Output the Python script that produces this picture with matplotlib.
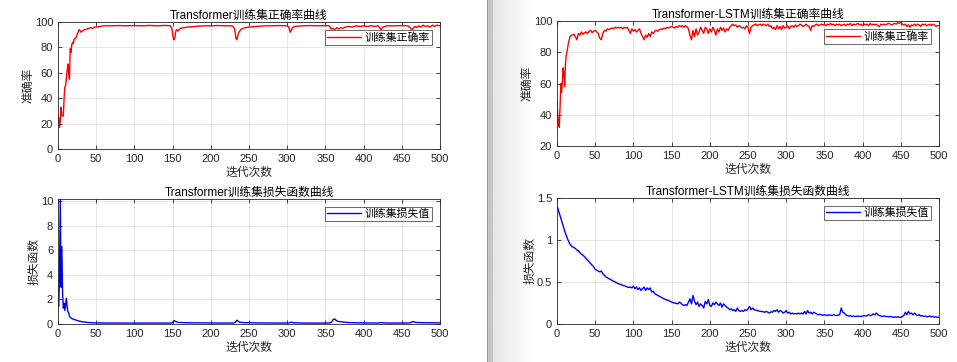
import numpy as np
import matplotlib
matplotlib.use("Agg")
import matplotlib.pyplot as plt
from matplotlib.patches import Rectangle

plt.rcParams['font.family'] = ['Liberation Sans', 'Noto Sans CJK SC', 'DejaVu Sans']
plt.rcParams['axes.unicode_minus'] = False

# ---- Transformer (left): (iteration, value) points ----
tf_acc_pts = [
    (1, 25), (2, 17), (3, 22), (4, 33), (5, 26), (6, 26), (7, 26), (8, 40), (9, 49), (10, 50),
    (11, 56), (12, 62), (13, 67), (14, 60), (15, 55), (16, 79), (17, 76), (18, 82), (19, 84),
    (20, 83), (21, 86), (22, 87), (24, 88), (25, 90), (27, 93), (28, 94), (30, 92), (32, 93),
    (35, 94), (38, 94.5), (40, 95), (43, 95.5), (45, 95), (48, 96), (50, 96), (55, 96.5),
    (60, 97), (70, 97), (80, 97.2), (90, 97), (100, 97.2), (110, 97), (120, 97.3), (130, 97),
    (140, 97.3), (147, 97), (149, 95), (150, 91), (151, 87), (152, 86), (153, 88), (154, 92),
    (155, 94), (157, 93), (160, 95), (165, 95.5), (170, 96), (180, 96.5), (190, 97), (200, 97),
    (210, 97.2), (220, 97), (228, 97), (231, 95), (232, 91), (233, 87), (234, 86), (235, 88),
    (236, 91), (238, 93), (240, 94.5), (245, 95.5), (250, 96), (260, 96.5), (270, 97),
    (280, 97), (290, 97.2), (300, 97), (302, 96), (303, 94), (304, 92), (306, 94.5), (308, 96),
    (310, 96.5), (320, 97), (330, 97.2), (340, 97), (350, 97.2), (355, 97), (356, 96),
    (357, 94.5), (360, 95), (362, 94), (365, 95.5), (367, 94.5), (370, 95.5), (373, 95),
    (376, 96), (380, 96.5), (385, 96), (390, 97), (395, 96.5), (400, 97), (405, 96.5),
    (410, 97), (415, 96.5), (419, 97), (421, 95.5), (423, 94), (425, 96), (428, 96.5),
    (430, 97), (440, 97), (450, 97.2), (458, 97), (461, 95.5), (463, 94), (465, 95),
    (467, 96.5), (470, 95.5), (472, 97), (475, 96), (478, 97.5), (481, 96.5), (484, 97),
    (487, 96), (490, 97.5), (493, 96.5), (496, 97.5), (500, 97),
]

tf_loss_pts = [
    (1, 1.45), (2, 4.0), (3, 10.3), (4, 3.0), (5, 6.3), (6, 2.5), (7, 1.3), (8, 1.7), (9, 1.1),
    (10, 1.6), (11, 2.1), (12, 1.4), (13, 1.0), (14, 0.9), (15, 0.65), (16, 0.55), (18, 0.45),
    (20, 0.4), (23, 0.33), (26, 0.27), (30, 0.2), (35, 0.15), (40, 0.12), (45, 0.1), (50, 0.09),
    (60, 0.08), (80, 0.08), (100, 0.075), (120, 0.08), (148, 0.075), (150, 0.12), (152, 0.28),
    (154, 0.2), (156, 0.15), (160, 0.12), (170, 0.1), (190, 0.09), (210, 0.08), (230, 0.08),
    (232, 0.15), (234, 0.3), (236, 0.22), (238, 0.14), (245, 0.11), (260, 0.09), (280, 0.08),
    (302, 0.08), (304, 0.13), (306, 0.15), (308, 0.1), (320, 0.08), (340, 0.075), (355, 0.08),
    (358, 0.15), (360, 0.35), (362, 0.42), (364, 0.3), (366, 0.22), (370, 0.18), (375, 0.15),
    (380, 0.12), (390, 0.1), (400, 0.09), (420, 0.08), (422, 0.12), (424, 0.1), (430, 0.08),
    (460, 0.08), (462, 0.12), (464, 0.2), (466, 0.18), (468, 0.13), (475, 0.11), (490, 0.1),
    (500, 0.09),
]

# ---- Transformer-LSTM (right): iterations 0..19 every 1, then 20..500 every 2 ----
tl_iters = list(range(0, 20)) + list(range(20, 501, 2))

tl_acc = [
    48, 40, 34, 32, 45, 60, 54, 61, 70, 66, 58, 72, 78, 80, 83, 86, 88, 90, 90.5, 91,
    # 20-68
    91, 91.5, 90, 88, 92, 91, 93, 91.5, 92.5, 93, 92, 93.5, 94, 92.5, 93.5, 94, 93, 92, 89, 88,
    92, 94, 93.5, 95, 94.5,
    # 70-118
    95, 95.5, 95, 96, 95.5, 96, 95.5, 96, 95, 96, 95.5, 96, 94, 92, 95, 93.5, 94.5, 93, 94, 95,
    92, 90, 88, 91, 89.5,
    # 120-168
    92, 90, 93, 92, 93.5, 94, 93.5, 94.5, 95, 94.5, 95.5, 95, 96, 95.5, 96, 96.5, 96, 95.5, 96.5,
    96, 97, 96.5, 97, 96, 97,
    # 170-218
    96.5, 95, 91, 88, 94, 90, 95, 91, 93, 96, 94, 92, 96, 95, 92, 95, 93, 96, 94, 91, 95, 93, 96,
    94, 95.5,
    # 220-268
    93, 95, 94, 96, 97, 98, 97, 97.5, 96, 97, 96.5, 95.5, 96, 95, 97, 96, 92, 96, 97, 97.5, 98,
    97, 97.5, 98, 97,
    # 270-318
    98, 97.5, 97, 98, 96.5, 97, 95, 96, 94.5, 97, 95, 96.5, 94.5, 97, 95.5, 96, 97, 95, 96.5, 97,
    96, 97.5, 96.5, 97, 98,
    # 320-368
    97.5, 96.5, 97, 98, 97, 96.5, 94, 97, 96.5, 97.5, 98, 97, 97.5, 98, 97.5, 98, 97, 98, 97.5,
    98.5, 97.5, 98, 97, 98, 97.5,
    # 370-418
    98, 97, 97.5, 98, 97, 98, 97.5, 98.5, 97, 98, 97.5, 98, 98.5, 97.5, 98, 97, 98, 97.5, 98, 97,
    98.5, 97.5, 98, 97.5, 98,
    # 420-468
    97, 96.5, 98, 97.5, 98, 97.5, 98, 98.5, 98, 97.5, 98, 98.5, 98, 99, 98.5, 99, 98, 97.5, 98,
    96.5, 97.5, 96, 97.5, 97, 98,
    # 470-500
    97, 98, 97.5, 96.5, 98, 97.5, 98, 97, 97.5, 98, 97, 98, 97.5, 96.5, 97, 97,
]

tl_loss = [
    1.40, 1.38, 1.35, 1.32, 1.29, 1.26, 1.23, 1.20, 1.17, 1.14, 1.11, 1.08, 1.06, 1.03, 1.01,
    0.99, 0.97, 0.95, 0.94, 0.93,
    # 20-68
    0.92, 0.91, 0.90, 0.88, 0.87, 0.85, 0.83, 0.82, 0.80, 0.78, 0.76, 0.74, 0.72, 0.70, 0.68,
    0.65, 0.64, 0.63, 0.62, 0.63, 0.60, 0.58, 0.56, 0.55, 0.54,
    # 70-118
    0.53, 0.52, 0.51, 0.50, 0.49, 0.48, 0.475, 0.47, 0.46, 0.455, 0.45, 0.44, 0.435, 0.44, 0.43,
    0.45, 0.42, 0.44, 0.41, 0.43, 0.40, 0.42, 0.44, 0.40, 0.43,
    # 120-168
    0.41, 0.43, 0.38, 0.39, 0.36, 0.35, 0.34, 0.33, 0.32, 0.31, 0.30, 0.29, 0.285, 0.28, 0.27,
    0.26, 0.255, 0.25, 0.245, 0.24, 0.26, 0.25, 0.23, 0.22, 0.23,
    # 170-218
    0.22, 0.26, 0.30, 0.24, 0.34, 0.27, 0.23, 0.26, 0.21, 0.24, 0.22, 0.19, 0.27, 0.24, 0.29,
    0.22, 0.21, 0.25, 0.23, 0.26, 0.24, 0.22, 0.25, 0.20, 0.24,
    # 220-268
    0.22, 0.20, 0.19, 0.17, 0.18, 0.16, 0.17, 0.15, 0.19, 0.16, 0.15, 0.16, 0.15, 0.17, 0.16,
    0.18, 0.21, 0.17, 0.19, 0.17, 0.165, 0.16, 0.155, 0.15, 0.15,
    # 270-318
    0.145, 0.14, 0.15, 0.14, 0.13, 0.145, 0.14, 0.16, 0.15, 0.17, 0.14, 0.16, 0.15, 0.13, 0.14,
    0.16, 0.13, 0.14, 0.12, 0.13, 0.12, 0.125, 0.12, 0.13, 0.12,
    # 320-368
    0.13, 0.12, 0.15, 0.12, 0.16, 0.13, 0.14, 0.12, 0.14, 0.13, 0.12, 0.11, 0.115, 0.11, 0.105,
    0.11, 0.105, 0.10, 0.11, 0.105, 0.10, 0.11, 0.105, 0.10, 0.105,
    # 370-418
    0.11, 0.19, 0.14, 0.13, 0.11, 0.10, 0.095, 0.10, 0.09, 0.095, 0.09, 0.09, 0.095, 0.09, 0.09,
    0.095, 0.10, 0.095, 0.10, 0.11, 0.10, 0.105, 0.12, 0.11, 0.13,
    # 420-468
    0.11, 0.10, 0.095, 0.09, 0.095, 0.09, 0.09, 0.085, 0.09, 0.085, 0.08, 0.085, 0.08, 0.085,
    0.08, 0.08, 0.09, 0.10, 0.14, 0.11, 0.15, 0.12, 0.13, 0.11, 0.13,
    # 470-500
    0.11, 0.10, 0.11, 0.095, 0.10, 0.09, 0.095, 0.085, 0.09, 0.095, 0.085, 0.09, 0.08, 0.085,
    0.08, 0.08,
]

W, H = 957, 362
fig = plt.figure(figsize=(W / 100, H / 100), dpi=100)
fig.patch.set_facecolor("white")

# window background on the right + splitter bar
grad = np.linspace(0.90, 1.0, 64).reshape(1, -1)
bg = fig.add_axes([493 / W, 0, 40 / W, 1], zorder=-5)
bg.imshow(grad, cmap="gray", vmin=0, vmax=1, aspect="auto", extent=[0, 1, 0, 1])
bg.axis("off")
fig.add_artist(Rectangle((487 / W, 0), 6 / W, 1, transform=fig.transFigure,
                         facecolor="#c6c6c6", edgecolor="none", zorder=-4))
fig.add_artist(Rectangle((487 / W, 0), 1.2 / W, 1, transform=fig.transFigure,
                         facecolor="#9a9a9a", edgecolor="none", zorder=-3))


def px_box(x0, y0, x1, y1):
    return [x0 / W, 1 - y1 / H, (x1 - x0) / W, (y1 - y0) / H]


def style(ax, title, ylabel, ylim, yticks, yticklabels, label, color, x, y):
    ax.plot(x, y, color=color, lw=1.0, label=label)
    ax.set_xlim(0, 500)
    ax.set_ylim(*ylim)
    ax.set_xticks(np.arange(0, 501, 50))
    ax.set_yticks(yticks)
    ax.set_yticklabels(yticklabels)
    ax.grid(True, color="#262626", alpha=0.13, lw=0.6)
    ax.set_axisbelow(True)
    ax.tick_params(direction="in", top=True, right=True, length=3, width=0.6,
                   labelsize=8, colors="#262626", pad=3.5)
    for s in ax.spines.values():
        s.set_color("#262626")
        s.set_linewidth(0.6)
    ax.set_title(title, fontsize=8.5, color="#000000", pad=2.5)
    ax.set_xlabel("迭代次数", fontsize=8.5, color="#262626", labelpad=2)
    ax.set_ylabel(ylabel, fontsize=8.5, color="#262626", labelpad=0.5)
    leg = ax.legend(loc="upper right", fontsize=7.8, handlelength=3.1, frameon=True,
                    fancybox=False, borderpad=0.2, borderaxespad=0.7, handletextpad=0.4)
    leg.get_frame().set_edgecolor("#262626")
    leg.get_frame().set_linewidth(0.6)


tf_acc_x, tf_acc_y = zip(*tf_acc_pts)
tf_loss_x, tf_loss_y = zip(*tf_loss_pts)

ax1 = fig.add_axes(px_box(58, 22, 440, 149))
style(ax1, "Transformer训练集正确率曲线", "准确率", (0, 100), np.arange(0, 101, 20),
      [str(v) for v in range(0, 101, 20)], "训练集正确率", "#ff0000", tf_acc_x, tf_acc_y)

ax2 = fig.add_axes(px_box(58, 199, 440, 324))
style(ax2, "Transformer训练集损失函数曲线", "损失函数", (0, 10.2), np.arange(0, 11, 2),
      [str(v) for v in range(0, 11, 2)], "训练集损失值", "#0000ff", tf_loss_x, tf_loss_y)

ax3 = fig.add_axes(px_box(557, 21, 939, 146))
style(ax3, "Transformer-LSTM训练集正确率曲线", "准确率", (20, 100), np.arange(20, 101, 20),
      [str(v) for v in range(20, 101, 20)], "训练集正确率", "#ff0000",
      tl_iters[:len(tl_acc)], tl_acc)

ax4 = fig.add_axes(px_box(557, 198, 939, 324))
style(ax4, "Transformer-LSTM训练集损失函数曲线", "损失函数", (0, 1.5), [0, 0.5, 1, 1.5],
      ["0", "0.5", "1", "1.5"], "训练集损失值", "#0000ff",
      tl_iters[:len(tl_loss)], tl_loss)

fig.savefig("out.png", dpi=100, facecolor=fig.get_facecolor())
